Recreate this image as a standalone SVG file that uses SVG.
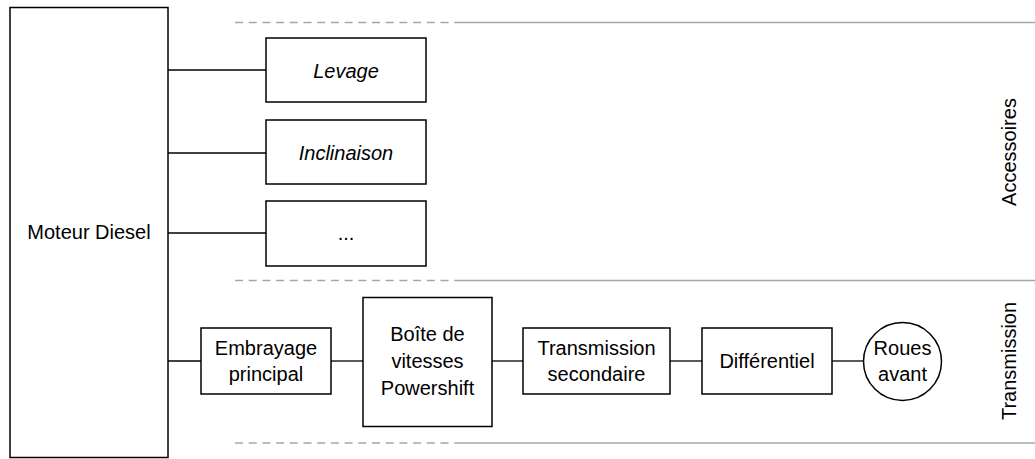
<svg xmlns="http://www.w3.org/2000/svg" width="1035" height="459" viewBox="0 0 1035 459">
  <style>
    .box { fill: #ffffff; stroke: #000000; stroke-width: 1.5; }
    .wire { fill: none; stroke: #000000; stroke-width: 1.3; }
    .sep-dash { fill: none; stroke: #a6a6a6; stroke-width: 1.5; stroke-dasharray: 8 5.7; }
    .sep { fill: none; stroke: #a6a6a6; stroke-width: 1.5; }
    text { font-family: "Liberation Sans", Arial, sans-serif; font-size: 20px; fill: #000000; text-anchor: middle; }
    .it { font-style: italic; }
  </style>

  <!-- zone separators -->
  <g id="separators">
    <line class="sep-dash" x1="235" y1="22.5" x2="458" y2="22.5"/>
    <line class="sep" x1="458" y1="22.5" x2="1035" y2="22.5"/>
    <line class="sep-dash" x1="235" y1="280.5" x2="458" y2="280.5"/>
    <line class="sep" x1="458" y1="280.5" x2="1035" y2="280.5"/>
    <line class="sep-dash" x1="235" y1="443" x2="458" y2="443"/>
    <line class="sep" x1="458" y1="443" x2="1035" y2="443"/>
  </g>

  <!-- connectors -->
  <g id="connectors">
    <line class="wire" x1="168" y1="70" x2="266" y2="70"/>
    <line class="wire" x1="168" y1="153" x2="266" y2="153"/>
    <line class="wire" x1="168" y1="233" x2="266" y2="233"/>
    <line class="wire" x1="168" y1="361" x2="201" y2="361"/>
    <line class="wire" x1="331" y1="361" x2="363" y2="361"/>
    <line class="wire" x1="492" y1="361" x2="523" y2="361"/>
    <line class="wire" x1="670" y1="361" x2="702" y2="361"/>
    <line class="wire" x1="832" y1="361" x2="863" y2="361"/>
  </g>

  <g id="moteur">
    <rect class="box" x="10" y="7.5" width="158" height="450"/>
    <text x="89" y="238.5">Moteur Diesel</text>
  </g>

  <g id="levage">
    <rect class="box" x="266" y="38" width="160" height="64"/>
    <text class="it" x="346" y="77.5">Levage</text>
  </g>

  <g id="inclinaison">
    <rect class="box" x="266" y="120" width="160" height="64"/>
    <text class="it" x="346" y="159.5">Inclinaison</text>
  </g>

  <g id="autres">
    <rect class="box" x="266" y="201" width="160" height="65"/>
    <text x="346" y="240">...</text>
  </g>

  <g id="embrayage">
    <rect class="box" x="201" y="328" width="130" height="66"/>
    <text x="266" y="355">Embrayage</text>
    <text x="266" y="381">principal</text>
  </g>

  <g id="boite">
    <rect class="box" x="363" y="297.5" width="129" height="129"/>
    <text x="427.5" y="341">Boîte de</text>
    <text x="427.5" y="368">vitesses</text>
    <text x="427.5" y="395">Powershift</text>
  </g>

  <g id="transmission-secondaire">
    <rect class="box" x="523" y="328" width="147" height="66"/>
    <text x="596.5" y="355">Transmission</text>
    <text x="596.5" y="381">secondaire</text>
  </g>

  <g id="differentiel">
    <rect class="box" x="702" y="328" width="130" height="66"/>
    <text x="767" y="368">Différentiel</text>
  </g>

  <g id="roues">
    <circle class="box" cx="902.5" cy="361.5" r="39"/>
    <text x="902.5" y="355">Roues</text>
    <text x="902.5" y="381">avant</text>
  </g>

  <!-- zone labels -->
  <g id="zone-labels">
    <text transform="translate(1016 152) rotate(-90)">Accessoires</text>
    <text transform="translate(1016 361) rotate(-90)">Transmission</text>
  </g>
</svg>
